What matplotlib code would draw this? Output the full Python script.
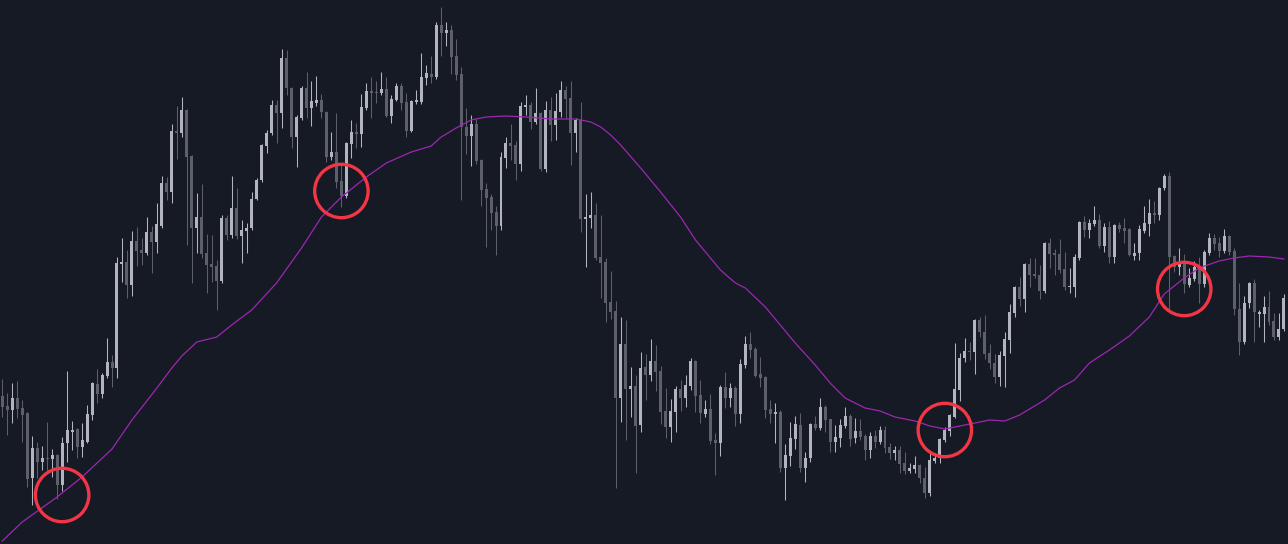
import matplotlib
matplotlib.use('Agg')
import matplotlib.pyplot as plt
import numpy as np

# OHLC (arbitrary price units, higher = up)
opens = [
    148, 138, 134, 146, 136, 131, 66, 96, 82, 86,
    85, 89, 59, 101, 112, 115, 97, 102, 129, 160,
    150, 168, 182, 176, 280, 282, 259, 303, 294, 291,
    312, 302, 318, 361, 352, 413, 411, 434, 388, 316,
    327, 291, 280, 278, 263, 326, 309, 336, 308, 313,
    316, 345, 364, 398, 411, 439, 431, 486, 456, 407,
    426, 456, 436, 441, 444, 432, 387, 392, 363, 348,
    400, 412, 410, 436, 453, 452, 451, 455, 428, 444,
    458, 442, 413, 442, 442, 466, 470, 467, 519, 511,
    514, 488, 470, 417, 408, 420, 384, 355, 347, 332,
    318, 386, 401, 399, 380, 437, 439, 422, 431, 375,
    434, 419, 432, 454, 446, 411, 424, 325, 326, 329,
    287, 282, 242, 233, 146, 200, 155, 158, 119, 177,
    169, 183, 173, 133, 117, 132, 155, 146, 158, 183,
    149, 130, 135, 104, 101, 157, 146, 156, 130, 179,
    200, 195, 170, 167, 135, 130, 132, 76, 88, 105,
    119, 76, 86, 120, 116, 137, 125, 102, 106, 118,
    128, 106, 113, 108, 94, 108, 102, 114, 97, 91,
    94, 81, 73, 75, 79, 66, 51, 83, 86, 104,
    113, 127, 154, 186, 193, 192, 224, 212, 191, 181,
    167, 188, 204, 231, 257, 245, 280, 270, 269, 253,
    301, 291, 290, 275, 257, 257, 286, 322, 314, 320,
    324, 298, 317, 287, 319, 316, 315, 288, 291, 313,
    320, 331, 329, 356, 368, 288, 277, 282, 259, 265,
    277, 260, 291, 306, 301, 293, 308, 293, 235, 202,
    241, 261, 230, 230, 237, 223, 207, 215,
]
highs = [
    165, 151, 161, 163, 144, 132, 108, 102, 98, 122,
    95, 90, 107, 173, 123, 116, 121, 139, 162, 175,
    171, 206, 189, 287, 306, 294, 313, 317, 306, 327,
    318, 341, 368, 367, 420, 438, 447, 435, 389, 351,
    360, 310, 309, 284, 329, 329, 368, 356, 324, 321,
    352, 366, 400, 414, 444, 444, 495, 494, 457, 429,
    458, 472, 463, 468, 450, 433, 412, 431, 379, 402,
    424, 421, 450, 461, 467, 463, 472, 467, 449, 461,
    461, 451, 444, 454, 491, 479, 488, 522, 537, 522,
    519, 505, 477, 436, 429, 425, 385, 361, 350, 338,
    392, 407, 420, 403, 442, 449, 442, 456, 432, 443,
    447, 451, 463, 458, 463, 426, 442, 350, 352, 341,
    329, 286, 273, 243, 227, 224, 177, 169, 192, 190,
    205, 199, 178, 156, 145, 158, 164, 169, 186, 184,
    164, 144, 150, 111, 159, 172, 161, 158, 185, 208,
    212, 197, 187, 168, 144, 141, 134, 100, 122, 128,
    131, 92, 121, 128, 146, 139, 125, 119, 125, 137,
    130, 126, 125, 110, 112, 114, 118, 118, 101, 98,
    98, 92, 81, 88, 80, 77, 92, 91, 106, 117,
    130, 201, 191, 206, 202, 225, 227, 229, 200, 190,
    193, 212, 240, 258, 267, 281, 286, 286, 279, 302,
    306, 295, 305, 292, 276, 290, 323, 328, 325, 338,
    330, 321, 323, 320, 322, 326, 316, 301, 319, 338,
    345, 343, 357, 370, 372, 289, 296, 290, 276, 283,
    287, 294, 311, 310, 307, 315, 309, 296, 261, 248,
    262, 265, 234, 248, 253, 231, 231, 250,
]
lows = [
    127, 109, 121, 126, 102, 57, 39, 66, 74, 74,
    67, 45, 53, 82, 94, 86, 87, 101, 124, 141,
    146, 166, 157, 166, 262, 246, 248, 278, 279, 289,
    271, 291, 316, 344, 341, 385, 407, 299, 261, 291,
    286, 251, 262, 234, 261, 304, 306, 305, 281, 291,
    314, 344, 362, 391, 409, 401, 416, 449, 396, 377,
    424, 426, 418, 438, 426, 382, 384, 356, 337, 346,
    386, 396, 397, 434, 426, 441, 449, 427, 421, 443,
    434, 407, 412, 440, 440, 459, 461, 465, 488, 498,
    470, 464, 344, 390, 378, 380, 338, 297, 314, 289,
    314, 376, 384, 364, 373, 429, 415, 420, 373, 372,
    403, 404, 427, 426, 379, 392, 312, 277, 316, 284,
    246, 222, 225, 56, 122, 104, 127, 71, 112, 144,
    163, 153, 120, 106, 102, 112, 133, 137, 154, 132,
    121, 127, 100, 69, 88, 136, 137, 118, 121, 176,
    186, 167, 157, 126, 121, 101, 72, 44, 78, 95,
    72, 62, 82, 114, 114, 112, 92, 92, 97, 116,
    98, 101, 104, 84, 86, 96, 100, 91, 85, 84,
    71, 70, 71, 71, 61, 46, 48, 81, 81, 102,
    108, 126, 143, 182, 184, 170, 207, 185, 175, 161,
    158, 157, 191, 227, 238, 232, 257, 266, 245, 251,
    276, 269, 271, 254, 251, 247, 284, 307, 306, 318,
    296, 292, 281, 281, 312, 301, 288, 284, 284, 311,
    308, 321, 324, 354, 234, 272, 269, 251, 257, 263,
    241, 257, 289, 294, 287, 291, 289, 229, 189, 200,
    236, 202, 217, 202, 219, 204, 204, 213,
]
closes = [
    137, 134, 146, 135, 129, 65, 96, 82, 86, 85,
    89, 59, 101, 114, 114, 97, 104, 130, 161, 150,
    169, 182, 176, 281, 282, 259, 303, 293, 291, 312,
    302, 320, 361, 352, 413, 411, 434, 387, 316, 327,
    290, 279, 277, 263, 326, 309, 336, 308, 314, 316,
    345, 364, 399, 411, 439, 431, 486, 456, 407, 427,
    456, 436, 443, 444, 432, 387, 392, 362, 348, 401,
    412, 410, 437, 453, 451, 451, 455, 428, 445, 458,
    441, 413, 443, 444, 467, 471, 467, 519, 511, 514,
    487, 469, 417, 408, 420, 383, 354, 346, 331, 318,
    387, 401, 398, 380, 438, 439, 422, 431, 375, 434,
    419, 433, 454, 445, 411, 424, 325, 327, 329, 286,
    281, 241, 232, 146, 200, 155, 158, 118, 176, 169,
    183, 172, 132, 117, 133, 155, 146, 159, 183, 148,
    131, 135, 103, 101, 157, 146, 156, 130, 180, 200,
    194, 168, 166, 134, 130, 132, 76, 89, 106, 120,
    76, 86, 120, 116, 137, 124, 102, 107, 119, 128,
    105, 113, 107, 94, 108, 102, 114, 96, 91, 94,
    80, 73, 76, 79, 66, 51, 84, 86, 105, 114,
    129, 155, 186, 193, 192, 224, 212, 190, 181, 167,
    189, 205, 232, 257, 245, 280, 269, 268, 253, 301,
    290, 289, 274, 257, 258, 287, 322, 314, 321, 324,
    298, 317, 287, 319, 315, 313, 289, 291, 315, 321,
    331, 329, 356, 368, 287, 277, 282, 260, 266, 277,
    260, 292, 306, 300, 293, 308, 292, 235, 202, 241,
    261, 232, 232, 237, 222, 207, 215, 246,
]

# moving average line, sampled at candle positions
ma_idx = [0, 4, 11, 16, 22, 26, 31, 34, 36, 39, 43, 46, 50, 55, 60, 64, 68, 73,
          77, 82, 86, 88, 91, 94, 97, 101, 105, 110, 115, 118, 120, 122, 124,
          128, 132, 136, 139, 144, 147, 149, 153, 156, 159, 163, 166, 169, 173,
          176, 179, 183, 186, 189, 192, 195, 198, 201, 204, 209, 212, 215, 218,
          222, 226, 230, 233, 237, 240, 244, 247, 250, 254, 257]
ma_val = [3, 22, 47, 67, 95, 124, 156, 176, 188, 202, 207, 219, 234, 261, 296,
          327, 347, 367, 381, 392, 398, 407, 416, 424, 427, 428, 427, 425, 425,
          422, 417, 409, 399, 376, 352, 327, 304, 274, 261, 256, 237, 219, 201,
          179, 161, 146, 136, 133, 127, 123, 118, 115, 118, 121, 124, 123, 129,
          144, 156, 164, 181, 194, 208, 227, 250, 266, 276, 283, 286, 288, 287,
          285]

# highlighted touches of the average
mark_idx = [12, 68, 189, 237]
mark_val = [49, 353, 114, 255]

BG = '#161a25'
UP = '#b2b5be'
DOWN = '#5d606b'

o = np.array(opens, dtype=float)
h = np.array(highs, dtype=float)
l = np.array(lows, dtype=float)
c = np.array(closes, dtype=float)
x = np.arange(len(o))
col = np.where(c >= o, UP, DOWN)

fig = plt.figure(figsize=(12.88, 5.44), dpi=100, facecolor=BG)
ax = fig.add_axes([0, 0, 1, 1])
ax.set_facecolor(BG)

ax.vlines(x, l, h, colors=col, linewidth=0.75, zorder=2)
body_lo = np.minimum(o, c)
body_h = np.maximum(np.abs(c - o), 1.5)
ax.bar(x, body_h, bottom=body_lo, width=0.6, color=col, linewidth=0, zorder=3)

ax.plot(ma_idx, ma_val, color='#9c27b0', linewidth=0.9, zorder=4,
        solid_joinstyle='round')

ax.scatter(mark_idx, mark_val, s=1480, facecolors='none', edgecolors='#f23645',
           linewidths=2.4, zorder=5)

ax.set_xlim(-0.46, 257.81)
ax.set_ylim(0, 544)
ax.axis('off')

fig.savefig('out.png', dpi=100, facecolor=BG)
